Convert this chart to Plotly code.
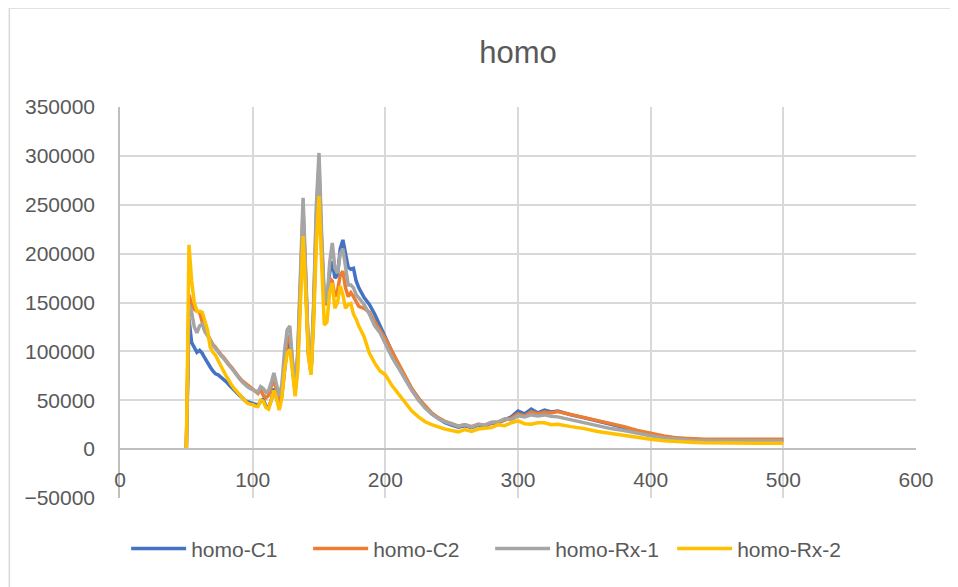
import plotly.graph_objects as go

# sample positions along x (dense where the curves are spiky)
x_vals = (list(range(50, 182, 2)) + [184, 188, 192, 196]
          + list(range(200, 335, 5)) + list(range(340, 510, 10)))

homo_c1 = [
    0, 133000, 109000, 103000, 99000, 101000, 98000, 93000, 88000, 84000,
    80000, 77000, 76000, 74000, 72000, 69000, 66000, 63000, 60000, 58000,
    55000, 53000, 50000, 48500, 47500, 46500, 45500, 45000, 49000, 51000,
    44000, 42500, 50000, 62000, 52000, 44000, 55000, 85000, 105000, 110000,
    82000, 58000, 90000, 170000, 235000, 170000, 98000, 78000, 140000, 230000,
    280000, 205000, 150000, 153000, 180000, 192000, 175000, 178000, 205000, 214000,
    200000, 186000, 184000, 185000, 172000, 165000,
    155000, 148000, 138000, 126000,
    115000, 98000, 85000, 72000, 61000, 52000, 43000, 36000, 31000, 27000,
    24500, 22500, 24000, 22000, 24500, 23500, 26500, 27000, 30000, 33000,
    39000, 36000, 41000, 37000, 40000, 38000, 39000,
    35000, 32000, 29000, 25500, 22000, 18500, 15000, 12500, 11000, 10000,
    9500, 9200, 9200, 9300, 9300, 9300, 9300,
]

homo_c2 = [
    0, 158000, 148000, 143000, 141000, 140000, 130000, 121000, 117000, 111000,
    107000, 104000, 100000, 97000, 94000, 90000, 87000, 84000, 80000, 76000,
    73000, 70000, 68000, 65000, 63000, 61000, 59000, 57000, 61000, 55000,
    52500, 55000, 64000, 72000, 60000, 50000, 62000, 92000, 112000, 116000,
    86000, 62000, 95000, 180000, 245000, 175000, 99000, 79000, 145000, 240000,
    290000, 210000, 150000, 148000, 175000, 172000, 156000, 162000, 178000, 182000,
    165000, 156000, 160000, 156000, 150000, 146000,
    144000, 140000, 130000, 121000,
    113000, 100000, 87000, 74000, 62000, 52000, 44000, 37000, 32000, 28500,
    26000, 23500, 25000, 23000, 25500, 24500, 27000, 27500, 30000, 31500,
    36000, 34000, 38000, 36000, 38000, 37000, 38500,
    35500, 32500, 29500, 26500, 23000, 19000, 16000, 13500, 11500, 10500,
    10000, 10000, 10000, 10000, 10000, 10000, 10000,
]

homo_rx1 = [
    0, 148000, 140000, 125000, 119000, 126000, 128000, 120000, 116000, 110000,
    106000, 103000, 99000, 96000, 93000, 89000, 86000, 83000, 79000, 75000,
    72000, 69000, 66000, 64000, 62000, 61000, 59500, 58500, 64000, 62000,
    58000, 60000, 68000, 78000, 66000, 54000, 66000, 100000, 122000, 126000,
    90000, 66000, 100000, 190000, 257000, 180000, 100000, 80000, 150000, 250000,
    303000, 220000, 155000, 150000, 190000, 211000, 185000, 180000, 200000, 205000,
    185000, 168000, 168000, 165000, 158000, 155000,
    148000, 138000, 126000, 119000,
    108000, 94000, 83000, 71000, 60000, 50000, 42000, 36000, 31000, 28000,
    25500, 23500, 25000, 22500, 25500, 24500, 27500, 28000, 31000, 30000,
    34000, 33000, 35000, 34000, 35000, 33500, 33000,
    30000, 27500, 24000, 21000, 19000, 16000, 13600, 11500, 10000, 9200,
    8800, 8500, 8500, 8500, 8500, 8500, 8500,
]

homo_rx2 = [
    0, 209000, 172000, 150000, 141000, 141000, 140000, 130000, 122000, 104000,
    99000, 96000, 90000, 86000, 80000, 75000, 70000, 66000, 62000, 59000,
    55000, 52000, 49000, 47000, 46000, 45500, 44000, 43500, 50000, 49000,
    42500, 41000, 50000, 60000, 52000, 40000, 52000, 80000, 98000, 102000,
    80000, 54000, 80000, 160000, 218000, 160000, 95000, 76000, 130000, 210000,
    259000, 190000, 127000, 130000, 160000, 170000, 144000, 150000, 167000, 158000,
    144000, 148000, 149000, 138000, 133000, 126000,
    115000, 98000, 88000, 80000,
    76000, 65000, 56000, 47000, 39000, 33000, 28000, 25000, 22500, 20500,
    19000, 17700, 20000, 18000, 20500, 21000, 22000, 25000, 24000, 27000,
    29000, 26000, 25500, 27000, 27000, 25000, 25500,
    23000, 21000, 18000, 16000, 13600, 11500, 10000, 8500, 7500, 7000,
    6500, 6200, 6100, 6100, 6000, 6000, 6000,
]

series = [
    ("homo-C1", homo_c1, "#4472C4"),
    ("homo-C2", homo_c2, "#ED7D31"),
    ("homo-Rx-1", homo_rx1, "#A5A5A5"),
    ("homo-Rx-2", homo_rx2, "#FFC000"),
]

FONT = "Liberation Sans, Arial, sans-serif"
TXT = "#595959"
GRID = "#D9D9D9"

fig = go.Figure()
for name, ys, color in series:
    fig.add_trace(go.Scatter(
        x=x_vals, y=ys, name=name, mode="lines",
        line=dict(color=color, width=3.5),
    ))

# page body has an 8px margin, so the figure is a little smaller than the window
fig.update_layout(
    width=950, height=579,
    margin=dict(l=112, r=42, t=99, b=89),
    paper_bgcolor="white", plot_bgcolor="white",
    font=dict(family=FONT, size=21, color=TXT),
    title=dict(text="homo", x=0.5, xref="paper", y=0.924, yanchor="middle",
               font=dict(family=FONT, size=31, color=TXT)),
    showlegend=True,
    legend=dict(orientation="h", x=0.465, xanchor="center", y=-0.13, yanchor="middle",
                font=dict(family=FONT, size=21, color=TXT),
                entrywidth=112, entrywidthmode="pixels", itemwidth=55),
    shapes=[dict(type="rect", xref="paper", yref="paper",
                 x0=-0.139, x1=1.06, y0=-0.25, y1=1.253,
                 line=dict(color=GRID, width=1.5), layer="below")],
)

fig.update_xaxes(
    range=[0, 600], dtick=100, tick0=0,
    showgrid=True, gridcolor=GRID, gridwidth=1.5,
    zeroline=False, showline=True, linecolor="#BFBFBF", linewidth=1.5,
    anchor="free", position=0.125, ticks="", ticklabelstandoff=12,
)
fig.update_yaxes(
    range=[-50000, 350000], dtick=50000, tick0=0,
    showgrid=True, gridcolor=GRID, gridwidth=1.5,
    zeroline=False, showline=True, linecolor="#BFBFBF", linewidth=1.5,
    ticks="", ticklabelstandoff=19, tickformat="d",
)

fig.write_html("out.html")
